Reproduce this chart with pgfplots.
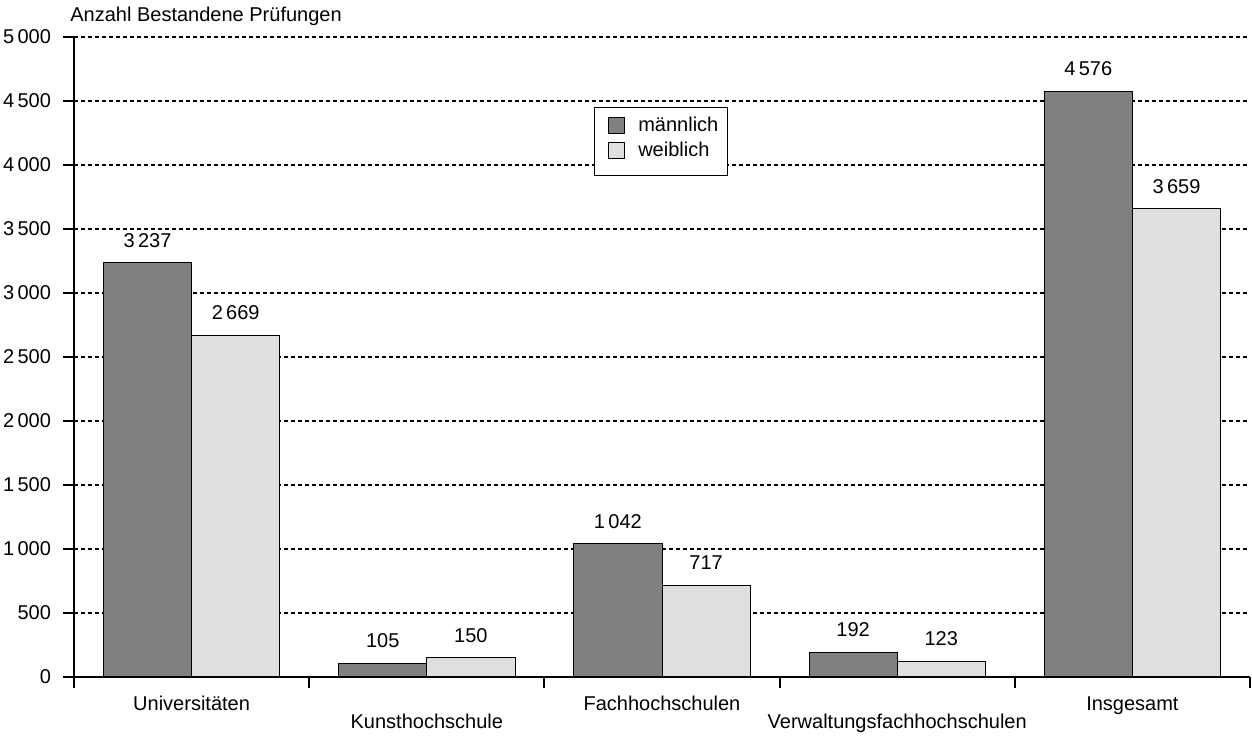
\documentclass[border=0pt]{standalone}
\usepackage{fontspec}
\setmainfont{Liberation Sans}
\usepackage{pgfplots}
\pgfplotsset{compat=1.18}
\definecolor{maleC}{RGB}{128,128,128}
\definecolor{femC}{RGB}{223,223,223}
\begin{document}
\begin{tikzpicture}
\begin{axis}[
  scale only axis, width=588pt, height=320pt,
  xmin=0, xmax=5, ymin=0, ymax=5000,
  clip=false,
  axis lines=left, axis line style={-, line width=1pt},
  /pgf/number format/1000 sep={\,},
  /pgf/number format/assume math mode=true,
  ytick={0,500,...,5000},
  yticklabel={\pgfmathprintnumber{\tick}},
  ymajorgrids,
  grid style={black, line width=0.6pt, dash pattern=on 2pt off 1.5pt},
  tick align=outside, major tick length=5.5pt,
  tick style={black, line width=1pt},
  xtick={0,1,2,3,4,5}, xticklabels={},
  extra x ticks={0.5,1.5,2.5,3.5,4.5},
  extra x tick labels={\strut Universitäten, {\strut\\[-3pt]\strut Kunsthochschule}, \strut Fachhochschulen, {\strut\\[-3pt]\strut Verwaltungsfachhochschulen}, \strut Insgesamt},
  extra x tick style={major tick length=0pt},
  xticklabel style={align=center, anchor=north, yshift=-5pt},
  yticklabel style={anchor=east, xshift=-2.5pt, font=\fontsize{10}{12}\selectfont},
  ybar=0pt, bar width=0.375,
  nodes near coords,
  every node near coord/.append style={anchor=base, yshift=7.8pt, inner sep=0pt, font=\fontsize{10}{12}\selectfont},
  legend style={at={(0.442,0.8906)}, anchor=north west, draw=black, line width=0.5pt,
    inner xsep=4.5pt, inner ysep=3pt, row sep=0pt,
    nodes={inner sep=0pt, font=\fontsize{10}{12}\selectfont}},
  legend cell align=left,
]
\addplot[fill=maleC, draw=black, line width=0.5pt, bar shift=-0.1875,
  legend image code/.code={\path[draw=none, fill=none] (-2.5pt,-6.125pt) rectangle (15pt,6.125pt);
    \draw[fill=maleC, draw=black, line width=0.5pt] (0pt,-4pt) rectangle (8pt,4pt);}]
  coordinates {(0.5,3237) (1.5,105) (2.5,1042) (3.5,192) (4.5,4576)};
\addplot[fill=femC, draw=black, line width=0.5pt, bar shift=0.1875,
  legend image code/.code={\path[draw=none, fill=none] (-2.5pt,-9.6pt) rectangle (15pt,6.125pt);
    \draw[fill=femC, draw=black, line width=0.5pt] (0pt,-4pt) rectangle (8pt,4pt);}]
  coordinates {(0.5,2669) (1.5,150) (2.5,717) (3.5,123) (4.5,3659)};
\legend{männlich, weiblich}
\node[anchor=base west, inner sep=0pt, xshift=-2pt, yshift=7.5pt] at (rel axis cs:0,1) {Anzahl Bestandene Prüfungen};
\end{axis}
\pgfresetboundingbox
\path ([xshift=-37pt,yshift=-29.5pt]current axis.south west) rectangle ([xshift=1pt,yshift=18.5pt]current axis.north east);
\end{tikzpicture}
\end{document}
